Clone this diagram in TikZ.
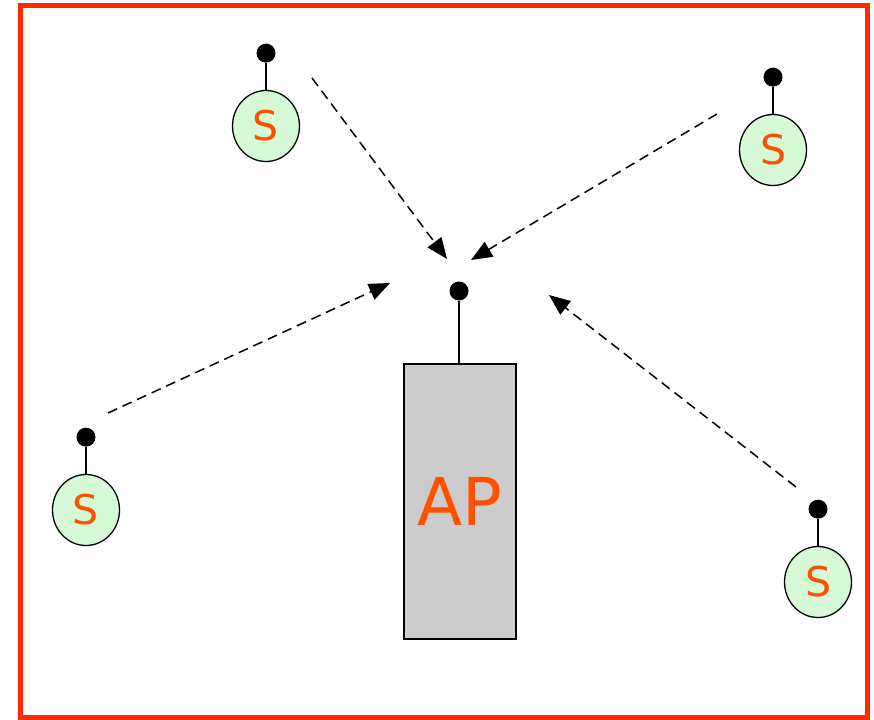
\documentclass[tikz,border=0pt]{standalone}
\usepackage{fontspec}
\setmainfont{DejaVu Sans}
\usetikzlibrary{positioning,arrows.meta,shapes.geometric}
\definecolor{frame}{RGB}{255,42,0}
\definecolor{lbl}{RGB}{255,80,0}
\definecolor{stafill}{RGB}{214,250,214}
\definecolor{apfill}{RGB}{204,204,204}
\tikzstyle{sta}=[ellipse, draw=black, line width=1.3pt, fill=stafill, minimum width=67pt, minimum height=71pt, inner sep=0pt, text=lbl, font=\fontsize{41}{41}\selectfont]
\tikzstyle{ant}=[circle, fill=black, inner sep=0pt, minimum size=19pt]
\tikzstyle{apbox}=[draw=black, line width=1.3pt, fill=apfill, minimum width=112pt, minimum height=275pt, inner sep=0pt, text=lbl, font=\fontsize{66}{66}\selectfont]
\tikzstyle{wire}=[line width=1.5pt]
\tikzstyle{msg}=[line width=1.5pt, dash pattern=on 10pt off 6pt, -{Triangle[length=21pt,width=17pt]}]

\begin{document}
\begin{tikzpicture}[x=1pt, y=-1pt]
        \useasboundingbox (0,0) rectangle (874,719);
        \draw[frame, line width=5pt] (20,6) rectangle (867,717);
        % access point
        \node[apbox] (ap) at (460,501.5) {AP};
        \node[ant] (apa) at (459,291) {};
        \draw[wire] (apa) -- (ap.north -| apa);
        % stations
        \node[sta] (s1) at (266,126) {S};
        \node[ant] (a1) [above= 27pt of s1] {};
        \node[sta] (s2) at (773,150) {S};
        \node[ant] (a2) [above= 27pt of s2] {};
        \node[sta] (s3) at (86,510) {S};
        \node[ant] (a3) [above= 27pt of s3] {};
        \node[sta] (s4) at (818,582) {S};
        \node[ant] (a4) [above= 27pt of s4] {};
        \foreach \i in {1,2,3,4}
            \draw[wire] (a\i) -- (s\i);
        % transmissions towards the AP
        \coordinate (f1) at (312,78);   \coordinate (t1) at (447,259);
        \coordinate (f2) at (717,114);  \coordinate (t2) at (471,260);
        \coordinate (f3) at (108,413);  \coordinate (t3) at (390,283);
        \coordinate (f4) at (796,487);  \coordinate (t4) at (549,295);
        \foreach \i in {1,2,3,4}
            \draw[msg] (f\i) -- (t\i);
\end{tikzpicture}
\end{document}
